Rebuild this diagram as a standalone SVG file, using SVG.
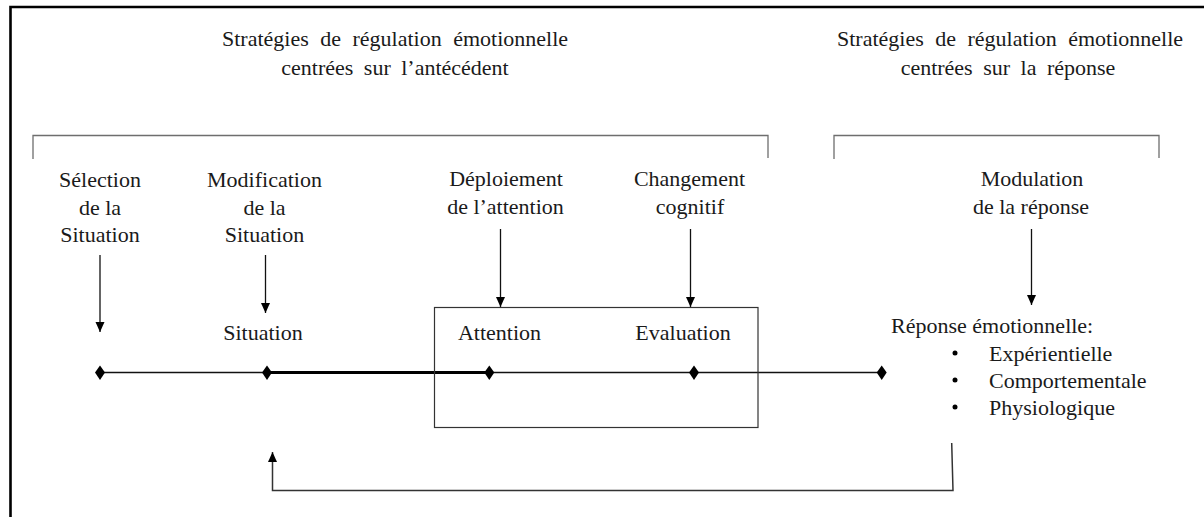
<svg xmlns="http://www.w3.org/2000/svg" width="1204" height="517" viewBox="0 0 1204 517" font-family="'Liberation Serif', 'Times New Roman', serif">
<defs>
<style>
text{font-family:"Liberation Serif","Times New Roman",serif;font-size:22px;fill:#1a1a1a}
.c{text-anchor:middle}
.t1{word-spacing:6px}
.t2{word-spacing:5px}
.br{fill:none;stroke:#6e6e6e;stroke-width:1.3}
.ln{fill:none;stroke:#111;stroke-width:1.3}
.fb{fill:none;stroke:#333;stroke-width:1.5}
.dm{fill:#000}
</style>
<marker id="ah" viewBox="0 0 10 10" refX="10" refY="5" markerWidth="10" markerHeight="10" markerUnits="userSpaceOnUse" orient="auto">
<path d="M0,0.5 L10,5 L0,9.5 Z" fill="#000"/>
</marker>
</defs>
<rect x="0" y="0" width="1204" height="517" fill="#fff"/>
<path d="M10.5,517 L10.5,7 L1204,7" fill="none" stroke="#000" stroke-width="2.6"/>

<g id="title-antecedent">
<text class="c t1" x="395" y="46">Stratégies de régulation émotionnelle</text>
<text class="c t2" x="395" y="75">centrées sur l’antécédent</text>
<path class="br" d="M33,159 L33,135.5 L768,135.5 L768,158"/>
</g>
<g id="title-reponse">
<text class="c t1" x="1010" y="46">Stratégies de régulation émotionnelle</text>
<text class="c t2" x="1008" y="75">centrées sur la réponse</text>
<path class="br" d="M834,159 L834,135.5 L1159,135.5 L1159,158"/>
</g>

<g id="connectors">
<line class="ln" x1="100" y1="255" x2="100" y2="332" marker-end="url(#ah)"/>
<line class="ln" x1="265.5" y1="255" x2="265.5" y2="313" marker-end="url(#ah)"/>
<line class="ln" x1="500.5" y1="229" x2="500.5" y2="307" marker-end="url(#ah)"/>
<line class="ln" x1="690.5" y1="229" x2="690.5" y2="307" marker-end="url(#ah)"/>
<line class="ln" x1="1031.5" y1="229" x2="1031.5" y2="305" marker-end="url(#ah)"/>
<line x1="100" y1="372.5" x2="881" y2="372.5" stroke="#111" stroke-width="1.6"/>
<line x1="267" y1="372.5" x2="489" y2="372.5" stroke="#000" stroke-width="3"/>
<path class="fb" d="M951.7,443 L953,490.5 L272.5,490.5 L272.5,452" marker-end="url(#ah)"/>
</g>

<g id="node-selection">
<text class="c" x="100" y="187">Sélection</text>
<text class="c" x="100" y="214.5">de la</text>
<text class="c" x="100" y="242">Situation</text>
<path class="dm" d="M100,365.5 L105,372.5 L100,380 L95,372.5 Z"/>
</g>
<g id="node-modification">
<text class="c" x="264.5" y="187">Modification</text>
<text class="c" x="264.5" y="214.5">de la</text>
<text class="c" x="264.5" y="242">Situation</text>
</g>
<g id="node-situation">
<text class="c" x="263" y="340">Situation</text>
<path class="dm" d="M267,365.5 L272,372.5 L267,380 L262,372.5 Z"/>
</g>
<g id="node-deploiement">
<text class="c" x="506" y="186">Déploiement</text>
<text class="c" x="505.5" y="213.5">de l’attention</text>
</g>
<g id="node-changement">
<text class="c" x="689.5" y="186">Changement</text>
<text class="c" x="690" y="213.5">cognitif</text>
</g>
<g id="box-attention-evaluation">
<rect x="434.5" y="307.5" width="323.5" height="120" fill="none" stroke="#333" stroke-width="1.2"/>
</g>
<g id="node-attention">
<text class="c" x="499.5" y="340">Attention</text>
<path class="dm" d="M489.3,365.5 L494.3,372.5 L489.3,380 L484.3,372.5 Z"/>
</g>
<g id="node-evaluation">
<text class="c" x="683" y="340">Evaluation</text>
<path class="dm" d="M694,365.5 L699,372.5 L694,380 L689,372.5 Z"/>
</g>
<g id="node-modulation">
<text class="c" x="1032" y="186">Modulation</text>
<text class="c" x="1031" y="213.5">de la réponse</text>
</g>
<g id="node-reponse">
<path class="dm" d="M881.7,365.5 L886.7,372.5 L881.7,380 L876.7,372.5 Z"/>
<text x="891" y="333">Réponse émotionnelle:</text>
<circle cx="955" cy="353" r="2.5" fill="#000"/>
<circle cx="955" cy="380" r="2.5" fill="#000"/>
<circle cx="955" cy="407" r="2.5" fill="#000"/>
<text x="989" y="361">Expérientielle</text>
<text x="989" y="388">Comportementale</text>
<text x="989" y="415">Physiologique</text>
</g>
</svg>
